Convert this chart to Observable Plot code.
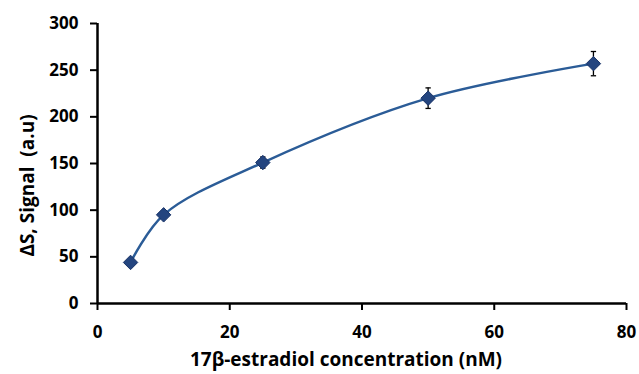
<!DOCTYPE html>
<html>
<head>
<meta charset="utf-8">
<script src="https://cdn.jsdelivr.net/npm/d3@7"></script>
<script src="https://cdn.jsdelivr.net/npm/@observablehq/plot@0.6"></script>
<style>
  html, body { margin: 0; padding: 0; background: #fff; }
  #chart svg { display: block; }
</style>
</head>
<body>
<div id="chart"></div>
<script>
const concentration = [5, 10, 25, 50, 75];
const signal = [44, 95, 151, 220, 257];
const errorBar = [2, 3, 6, 11, 13];
const xTicks = [0, 20, 40, 60, 80];
const yTicks = [0, 50, 100, 150, 200, 250, 300];
const xLabel = "17β-estradiol concentration (nM)";
const yLabel = "ΔS, Signal  (a.u)";

const data = concentration.map((c, i) => ({x: c, y: signal[i], lo: signal[i] - errorBar[i], hi: signal[i] + errorBar[i]}));

const font = "'Open Sans', 'DejaVu Sans', sans-serif";

// horizontal cap symbol for error bars
const capSymbol = {
  draw(context, size) {
    const w = Math.sqrt(size);
    context.moveTo(-w / 2, 0);
    context.lineTo(w / 2, 0);
  }
};

const chart = Plot.plot({
  width: 639,
  height: 374,
  marginLeft: 97,
  marginRight: 13,
  marginTop: 23,
  marginBottom: 71,
  style: {fontFamily: font, fontWeight: "bold", color: "#000", background: "#fff"},
  x: {type: "linear", domain: [0, 80]},
  y: {type: "linear", domain: [0, 300]},
  marks: [
    Plot.axisX({ticks: xTicks, tickSize: 7, tickPadding: 15, fontSize: 17, fontWeight: "bold", label: null, stroke: "#000", strokeWidth: 2}),
    Plot.axisY({ticks: yTicks, tickSize: 7, tickPadding: 12, fontSize: 17, fontWeight: "bold", label: null, stroke: "#000", strokeWidth: 2}),
    Plot.ruleY([0], {stroke: "#000", strokeWidth: 2.5}),
    Plot.ruleX([0], {stroke: "#000", strokeWidth: 2.5}),
    Plot.line(data, {x: "x", y: "y", curve: "catmull-rom", stroke: "#2B5C97", strokeWidth: 2.5}),
    Plot.ruleX(data, {x: "x", y1: "lo", y2: "hi", stroke: "#000", strokeWidth: 1.3}),
    Plot.dot(data, {x: "x", y: "lo", symbol: capSymbol, r: 3, stroke: "#000", strokeWidth: 1.3}),
    Plot.dot(data, {x: "x", y: "hi", symbol: capSymbol, r: 3, stroke: "#000", strokeWidth: 1.3}),
    Plot.dot(data, {x: "x", y: "y", symbol: "diamond2", r: 6.5, fill: "#24457F", stroke: "#1A3468", strokeWidth: 1}),
    Plot.text([xLabel], {frameAnchor: "bottom", lineAnchor: "middle", textAnchor: "middle", dy: 56, dx: -16, fontSize: 19, fontWeight: "bold", fill: "#000"}),
    Plot.text([yLabel], {frameAnchor: "left", lineAnchor: "middle", textAnchor: "middle", dx: -70, dy: 22, rotate: -90, fontSize: 19, fontWeight: "bold", fill: "#000"})
  ]
});
document.getElementById("chart").appendChild(chart);
</script>
</body>
</html>
